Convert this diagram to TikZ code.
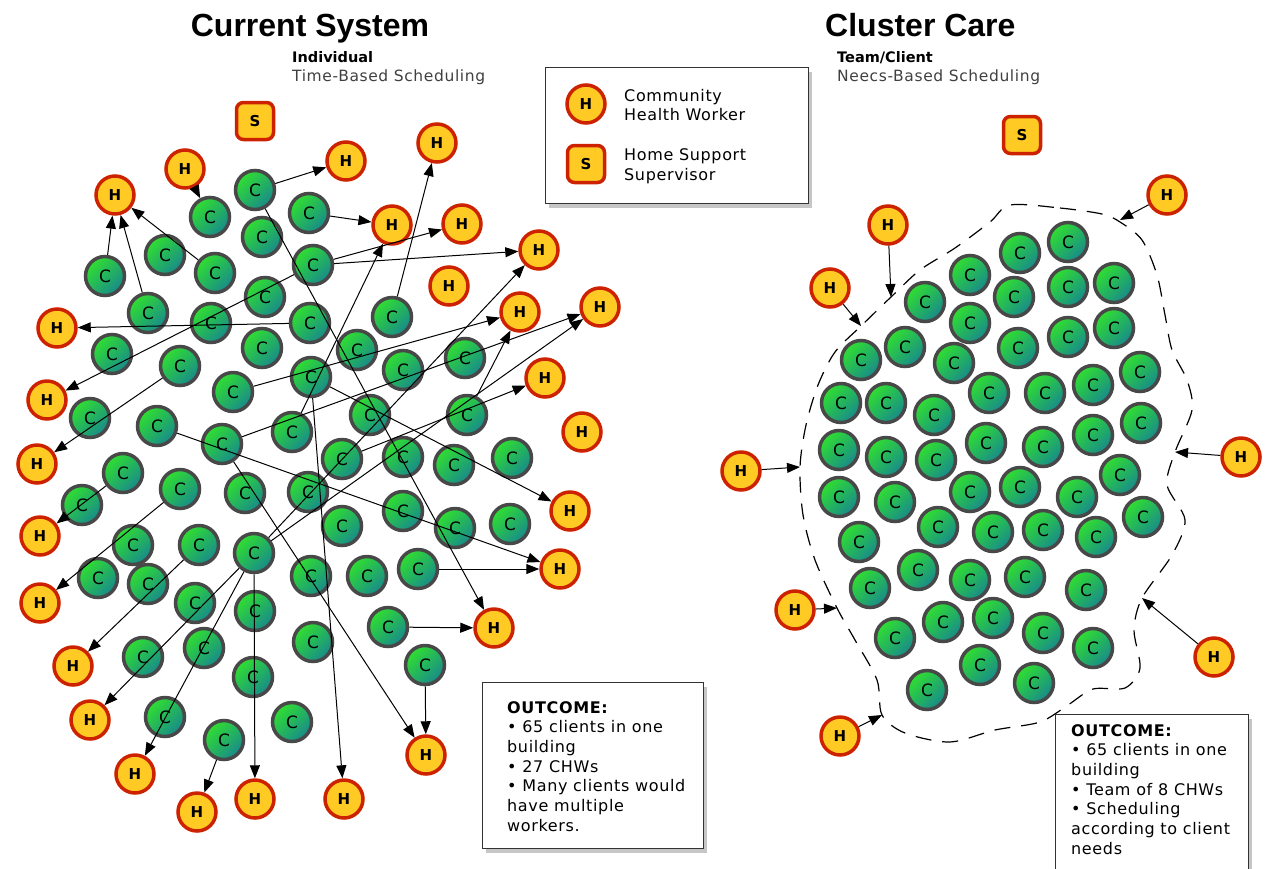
\documentclass[tikz,border=0pt]{standalone}
\usepackage{fontspec}
\setmainfont{DejaVu Sans}
\newfontfamily\titlefont{Liberation Sans}
\newfontfamily\spacedfont{DejaVu Sans}[LetterSpace=4]
\usetikzlibrary{arrows.meta, shadows}

\definecolor{workerfill}{RGB}{255,202,36}
\definecolor{workerline}{RGB}{204,34,0}
\definecolor{clientlight}{RGB}{48,222,48}
\definecolor{clientdark}{RGB}{24,138,140}
\definecolor{clientline}{RGB}{72,72,72}

\tikzstyle{clientbox}=[circle,draw=clientline,line width=3.5pt,minimum size=39pt,
inner sep=0pt,top color=clientlight,bottom color=clientdark,shading angle=45,
font=\fontsize{17}{17}\selectfont]
\tikzstyle{workerbox}=[circle,draw=workerline,line width=3.5pt,minimum size=38pt,
inner sep=0pt,fill=workerfill,font=\bfseries\fontsize{15}{15}\selectfont]
\tikzstyle{superbox}=[rectangle,rounded corners=7pt,draw=workerline,line width=3.5pt,
minimum size=37pt,inner sep=0pt,fill=workerfill,font=\bfseries\fontsize{15}{15}\selectfont]
\tikzstyle{arrowpath} = [-{Triangle[length=13pt,width=10pt]},line width=1pt]
\tikzstyle{panelbox}=[rectangle,draw=black!80,line width=1.4pt,fill=white,
drop shadow={shadow xshift=3pt,shadow yshift=-4pt,opacity=0.45}]
\tikzstyle{boxtext}=[align=left,inner sep=0pt,font=\spacedfont\fontsize{16}{19.7}\selectfont]
\tikzstyle{titletext}=[inner sep=0pt,anchor=base,font=\titlefont\bfseries\fontsize{32}{32}\selectfont]
\tikzstyle{headtext}=[inner sep=0pt,anchor=base west,font=\bfseries\fontsize{14.5}{14.5}\selectfont]
\tikzstyle{subtext}=[inner sep=0pt,anchor=base west,text=black!75,font=\spacedfont\fontsize{15.5}{15.5}\selectfont]
\tikzstyle{teamline} = [dash pattern=on 16pt off 11pt,line width=1.2pt]

\begin{document}
\begin{tikzpicture}[x=1pt,y=-1pt]
    \useasboundingbox (0,0) rectangle (1265,868);

    % headings
    \node[titletext] (lefttitle) at (310,36) {Current System};
    \node[headtext] (lefthead) at (292,62) {Individual};
    \node[subtext] (leftsub) at (292,81) {Time-Based Scheduling};
    \node[titletext,anchor=base west] (righttitle) at (825,36) {Cluster Care};
    \node[headtext] (righthead) at (837,62) {Team/Client};
    \node[subtext] (rightsub) at (837,81) {Neecs-Based Scheduling};

    % legend
    \node[panelbox,anchor=north west,minimum width=263pt,minimum height=136pt] (legend) at (545,67) {};
    \node[workerbox] (legh) at (586,104) {H};
    \node[superbox] (legs) at (586,164) {S};
    \node[boxtext,anchor=west] (leghtext) at (624,105) {Community\\Health Worker};
    \node[boxtext,anchor=west] (legstext) at (624,166) {Home Support\\Supervisor};

    % current system
    \node[superbox] (s) at (255,121) {S};
    \foreach \n/\x/\y in {1/255/190, 2/210/217, 3/309/213, 4/262/237, 5/165/255,
        6/215/273, 7/105/276, 8/313/265, 9/265/297, 10/148/313, 11/211/323,
        12/310/323, 13/392/317, 14/112/354, 15/262/348, 16/357/350, 17/311/377,
        18/403/370, 19/465/358, 20/180/366, 21/233/392, 22/90/418, 23/157/426,
        24/370/415, 25/292/432, 26/467/415, 27/222/444, 28/342/459, 29/403/457,
        30/454/465, 31/512/458, 32/123/473, 33/82/505, 34/180/489, 35/245/493,
        36/308/492, 37/403/511, 38/342/526, 39/455/528, 40/510/524, 41/133/545,
        42/199/545, 43/254/553, 44/98/578, 45/148/584, 46/311/576, 47/367/576,
        48/418/569, 49/195/603, 50/255/611, 51/388/627, 52/143/657, 53/204/648,
        54/313/642, 55/253/677, 56/425/665, 57/165/717, 58/292/722, 59/224/740}
        \node[clientbox] (c\n) at (\x,\y) {C};
    \foreach \n/\x/\y in {1/185/169, 2/115/195, 3/346/161, 4/437/143, 5/392/225,
        6/462/224, 7/539/250, 8/449/286, 9/57/328, 10/520/312, 11/600/307,
        12/47/400, 13/545/378, 14/37/464, 15/582/432, 16/570/511, 17/40/536,
        18/560/569, 19/40/603, 20/494/628, 21/73/666, 22/90/720, 23/426/755,
        24/135/774, 25/197/812, 26/255/799, 27/344/799}
        \node[workerbox] (h\n) at (\x,\y) {H};

    \path[arrowpath]
        (h1) edge (c2)
        (c7) edge (h2)
        (c10) edge (h2)
        (c6) edge (h2)
        (c1) edge (h3)
        (c13) edge (h4)
        (c3) edge (h5)
        (c25) edge (h5)
        (c8) edge (h6)
        (c8) edge (h7)
        (c43) edge (h7)
        (c12) edge (h9)
        (c21) edge (h10)
        (c26) edge (h10)
        (c27) edge (h11)
        (c43) edge (h11)
        (c8) edge (h12)
        (c28) edge (h13)
        (c20) edge (h14)
        (c17) edge (h16)
        (c32) edge (h17)
        (c23) edge (h18)
        (c48) edge (h18)
        (c34) edge (h19)
        (c1) edge (h20)
        (c51) edge (h20)
        (c42) edge (h21)
        (c43) edge (h22)
        (c27) edge (h23)
        (c56) edge (h23)
        (c43) edge (h24)
        (c59) edge (h25)
        (c43) edge (h26)
        (c17) edge (h27);

    \node[panelbox,anchor=north west,minimum width=221pt,minimum height=166pt] (leftout) at (482,682) {};
    \node[boxtext,anchor=north west] (leftouttext) at (507,701)
        {\textbf{OUTCOME:}\\\textbullet\ 65 clients in one\\building\\\textbullet\ 27 CHWs\\
         \textbullet\ Many clients would\\have multiple\\workers.};

    % cluster care
    \node[superbox] (rs) at (1022,135) {S};
    \draw[teamline] plot[smooth cycle] coordinates {(1010,205) (1060,208) (1102,214)
        (1120,222) (1142,240) (1157,275) (1165,315) (1172,350) (1187,380) (1192,410)
        (1175,452) (1167,485) (1185,520) (1172,555) (1142,598) (1134,630) (1140,668)
        (1125,688) (1093,689) (1068,705) (1040,722) (995,730) (950,742) (905,733)
        (882,715) (877,680) (855,640) (837,608) (815,560) (803,515) (800,467)
        (806,425) (818,385) (835,352) (861,326) (891,297) (920,270) (955,248) (990,222)};
    \foreach \n/\x/\y in {1/1068/242, 2/1020/253, 3/970/275, 4/925/302, 5/1068/287,
        6/1114/283, 7/1014/297, 8/970/323, 9/1068/337, 10/1114/328, 11/905/347,
        12/1018/348, 13/861/360, 14/954/363, 15/1140/372, 16/1093/385, 17/1045/393,
        18/989/393, 19/841/403, 20/886/403, 21/934/415, 22/839/450, 23/886/457,
        24/936/460, 25/986/443, 26/1043/447, 27/1093/435, 28/1141/423, 29/839/497,
        30/895/502, 31/970/492, 32/1020/487, 33/1077/497, 34/1120/475, 35/1143/517,
        36/859/542, 37/938/527, 38/993/532, 39/1043/530, 40/1096/537, 41/918/570,
        42/970/580, 43/1025/577, 44/1086/590, 45/870/588, 46/895/638, 47/943/622,
        48/993/618, 49/1043/633, 50/1093/648, 51/980/665, 52/1034/683, 53/927/690}
        \node[clientbox] (rc\n) at (\x,\y) {C};
    \foreach \n/\x/\y in {1/1167/195, 2/888/225, 3/830/288, 4/741/471,
        5/1241/457, 6/795/610, 7/1214/657, 8/840/736}
        \node[workerbox] (rh\n) at (\x,\y) {H};
    \coordinate (e1) at (1120,220);
    \coordinate (e2) at (891,297);
    \coordinate (e3) at (861,326);
    \coordinate (e4) at (800,467);
    \coordinate (e5) at (1175,452);
    \coordinate (e6) at (837,608);
    \coordinate (e7) at (1142,598);
    \coordinate (e8) at (882,715);

    \path[arrowpath]
        (rh1) edge (e1)
        (rh2) edge (e2)
        (rh3) edge (e3)
        (rh4) edge (e4)
        (rh5) edge (e5)
        (rh6) edge (e6)
        (rh7) edge (e7)
        (rh8) edge (e8);

    \node[panelbox,anchor=north west,minimum width=193pt,minimum height=175pt] (rightout) at (1055,714) {};
    \node[boxtext,anchor=north west] (rightouttext) at (1071,724)
        {\textbf{OUTCOME:}\\\textbullet\ 65 clients in one\\building\\\textbullet\ Team of 8 CHWs\\
         \textbullet\ Scheduling\\according to client\\needs};
\end{tikzpicture}
\end{document}
